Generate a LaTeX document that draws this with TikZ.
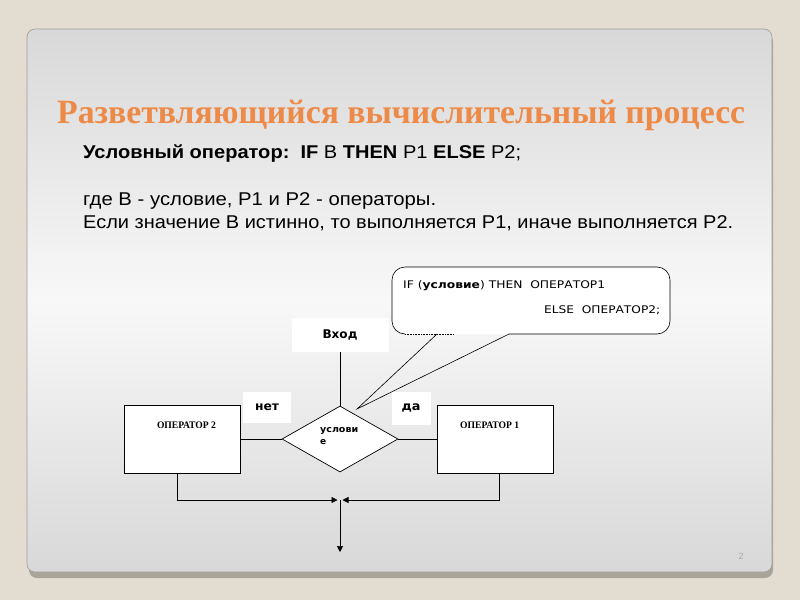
\documentclass[tikz,border=0pt]{standalone}
\usepackage{fontspec}
\setmainfont{Liberation Sans}
\newfontfamily\titlefont{Liberation Serif}
\newfontfamily\dvs{DejaVu Sans}
\usetikzlibrary{shapes.geometric,arrows.meta}
\definecolor{bgbeige}{HTML}{E3DDD1}
\definecolor{panelgray}{HTML}{D8D8D8}
\definecolor{panelwhite}{HTML}{F8F8F8}
\definecolor{titleorange}{HTML}{EE8A47}
\definecolor{shadowgray}{HTML}{A8A49A}
\definecolor{bordergray}{HTML}{9C9C96}
\definecolor{pagenum}{HTML}{A8A8A8}
\newlength\fitlen
\newcommand\fitx[3]{\settowidth\fitlen{#2#3}\pgfmathsetmacro\fitsx{#1/\fitlen}\scalebox{\fitsx}[1]{#2#3}}
\begin{document}
\begin{tikzpicture}[x=1pt,y=-1pt,
  conn/.style={line width=0.7pt, draw=black},
  arr/.style={conn, -{Triangle[length=6pt,width=6pt]}},
  opbox/.style={draw=black, fill=white, line width=0.7pt, minimum width=116pt, minimum height=68pt, inner sep=0},
  lbl/.style={fill=white, inner sep=0},
  txt/.style={anchor=base west, inner sep=0}]
\useasboundingbox (0,0) rectangle (800,600);
% background and slide panel
\fill[bgbeige] (0,0) rectangle (800,600);
\fill[shadowgray, rounded corners=8pt] (29,34) rectangle (773,578);
\shade[rounded corners=8pt, top color=panelgray, bottom color=panelgray, middle color=panelwhite] (27,29) rectangle (772,572);
\draw[bordergray, line width=0.6pt, rounded corners=8pt] (27,29) rectangle (772,572);

% title and text
\node[txt, text=titleorange] (title) at (57,123) {\fitx{688pt}{\titlefont\bfseries\fontsize{34}{34}\selectfont}{Разветвляющийся вычислительный процесс}};
\node[txt] (l1) at (83,158.5) {\fitx{438pt}{\fontsize{18.5}{18.5}\selectfont}{\textbf{Условный оператор:}\ \ \textbf{IF} B \textbf{THEN} P1 \textbf{ELSE} P2;}};
\node[txt] (l2) at (83,205.5) {\fitx{353pt}{\fontsize{18.5}{18.5}\selectfont}{где B - условие, P1 и P2 - операторы.}};
\node[txt] (l3) at (83,228.5) {\fitx{650pt}{\fontsize{18.5}{18.5}\selectfont}{Если значение B истинно, то выполняется P1, иначе выполняется P2.}};

% callout
\coordinate (tip) at (357,409);
\fill[white, rounded corners=13pt] (392,267) rectangle (670,334);
\draw[conn, line width=0.6pt, rounded corners=13pt] (509,334) -- (670,334) -- (670,267) -- (392,267) -- (392,334) -- (405,334);
\draw[densely dotted, line width=0.6pt] (405,334) -- (454,334);
\draw[conn, line width=0.6pt] (437,334) -- (tip) -- (509,334);
\node[txt] (c1) at (403,288) {\fitx{202pt}{\dvs\fontsize{10.5}{10.5}\selectfont}{IF (\textbf{условие}) THEN\ \ ОПЕРАТОР1}};
\node[txt] (c2) at (544,313) {\fitx{116pt}{\dvs\fontsize{10.5}{10.5}\selectfont}{ELSE\ \ ОПЕРАТОР2;}};

% labels
\node[lbl, minimum width=97pt, minimum height=34pt] (vhod) at (340,335) {\fitx{35pt}{\dvs\bfseries\fontsize{12}{12}\selectfont}{Вход}};
\node[lbl, minimum width=48pt, minimum height=31pt] (net) at (267,407.5) {\fitx{24pt}{\dvs\bfseries\fontsize{12}{12}\selectfont}{нет}};
\node[lbl, minimum width=39pt, minimum height=33pt] (da) at (411,408.3) {\fitx{19pt}{\dvs\bfseries\fontsize{12}{12}\selectfont}{да}};

% flowchart
\node[diamond, draw=black, fill=white, line width=0.7pt, minimum width=116pt, minimum height=66pt, inner sep=0, aspect=1.76] (cond) at (340,439) {};
\node[anchor=north west, inner sep=0, align=left, font=\dvs\bfseries\fontsize{9}{12.5}\selectfont] (condtxt) at (320,427) {\fitx{38pt}{}{услови}\\е};
\node[opbox] (op2) at (182,439) {};
\node[opbox] (op1) at (495.5,439) {};
\node[inner sep=0] (op2t) at (186.5,425.5) {\fitx{59pt}{\titlefont\bfseries\fontsize{10}{10}\selectfont}{ОПЕРАТОР 2}};
\node[inner sep=0] (op1t) at (489.7,425.5) {\fitx{59pt}{\titlefont\bfseries\fontsize{10}{10}\selectfont}{ОПЕРАТОР 1}};

\draw[conn] (vhod.south) -- (cond.north);
\draw[conn] (op2.east) -- (cond.west);
\draw[conn] (cond.east) -- (op1.west);
\coordinate (jl) at (337.5,500);
\coordinate (jr) at (342.5,500);
\coordinate (j) at (340,500);
\coordinate (out) at (340,552);
\draw[arr] ([xshift=-4.5pt]op2.south) |- (jl);
\draw[arr] ([xshift=4pt]op1.south) |- (jr);
\draw[arr] (j) -- (out);

\node[text=pagenum, font=\fontsize{9}{9}\selectfont, inner sep=0] (pg) at (741,556) {2};
\end{tikzpicture}
\end{document}
